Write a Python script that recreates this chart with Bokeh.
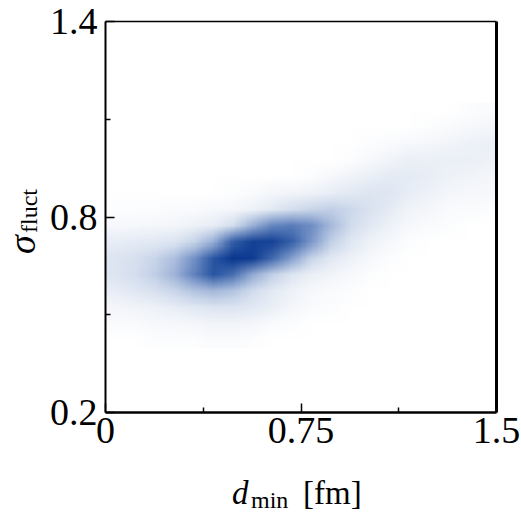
import base64
import struct
import zlib
import numpy as np
from bokeh.plotting import figure
from bokeh.models import FixedTicker, LinearAxis, Label
from bokeh.embed import file_html
from bokeh.resources import INLINE

# ---- data ----
x_cells = [0.0375, 0.1125, 0.1875, 0.2625, 0.3375, 0.4125, 0.4875, 0.5625, 0.6375, 0.7125,
           0.7875, 0.8625, 0.9375, 1.0125, 1.0875, 1.1625, 1.2375, 1.3125, 1.3875, 1.4625]
y_cells = [1.125, 1.075, 1.025, 0.975, 0.925, 0.875, 0.825, 0.775, 0.725, 0.675,
           0.625, 0.575, 0.525, 0.475, 0.425]
density = [
    [0, 0, 0, 0, 0, 0, 0, 0, 0, 0, 0, 0, 0, 0, 0, 0, 0, 0, 0.01, 0.02],
    [0, 0, 0, 0, 0, 0, 0, 0, 0, 0, 0, 0, 0, 0, 0, 0, 0.01, 0.02, 0.03, 0.04],
    [0, 0, 0, 0, 0, 0, 0, 0, 0, 0, 0, 0, 0, 0.01, 0.02, 0.03, 0.04, 0.05, 0.06, 0.07],
    [0, 0, 0, 0, 0, 0, 0, 0, 0, 0, 0, 0, 0.01, 0.03, 0.05, 0.07, 0.07, 0.07, 0.07, 0.06],
    [0, 0, 0, 0, 0, 0, 0, 0, 0, 0, 0.01, 0.03, 0.05, 0.07, 0.09, 0.09, 0.08, 0.06, 0.05, 0.04],
    [0, 0, 0, 0, 0, 0, 0.01, 0.02, 0.04, 0.05, 0.06, 0.08, 0.10, 0.12, 0.11, 0.08, 0.06, 0.04, 0.03, 0.03],
    [0.01, 0.01, 0.01, 0.02, 0.02, 0.03, 0.04, 0.06, 0.10, 0.15, 0.18, 0.20, 0.17, 0.13, 0.09, 0.05, 0.04, 0.02, 0.02, 0.01],
    [0.03, 0.03, 0.04, 0.04, 0.06, 0.08, 0.15, 0.30, 0.45, 0.50, 0.42, 0.27, 0.16, 0.10, 0.06, 0.03, 0.02, 0.01, 0, 0],
    [0.08, 0.09, 0.10, 0.12, 0.18, 0.30, 0.65, 0.85, 0.85, 0.65, 0.38, 0.20, 0.11, 0.06, 0.03, 0.01, 0, 0, 0, 0],
    [0.12, 0.14, 0.18, 0.25, 0.40, 0.70, 0.95, 0.90, 0.60, 0.35, 0.18, 0.10, 0.06, 0.03, 0.01, 0, 0, 0, 0, 0],
    [0.12, 0.15, 0.20, 0.29, 0.47, 0.70, 0.57, 0.32, 0.20, 0.12, 0.07, 0.05, 0.03, 0.01, 0, 0, 0, 0, 0, 0],
    [0.08, 0.11, 0.14, 0.18, 0.24, 0.28, 0.24, 0.16, 0.10, 0.06, 0.03, 0.02, 0.01, 0, 0, 0, 0, 0, 0, 0],
    [0.04, 0.05, 0.06, 0.08, 0.10, 0.12, 0.12, 0.10, 0.07, 0.04, 0.02, 0.01, 0, 0, 0, 0, 0, 0, 0, 0],
    [0.02, 0.02, 0.03, 0.03, 0.04, 0.05, 0.05, 0.04, 0.02, 0.01, 0, 0, 0, 0, 0, 0, 0, 0, 0, 0],
    [0, 0, 0.01, 0.01, 0.01, 0.02, 0.02, 0.01, 0, 0, 0, 0, 0, 0, 0, 0, 0, 0, 0, 0],
]
x_ticks = [0, 0.75, 1.5]
x_tick_labels = ["0", "0.75", "1.5"]
x_minor = [0.375, 1.125]
y_ticks = [0.2, 0.8, 1.4]
y_tick_labels = ["0.2", "0.8", "1.4"]
y_minor = [0.5, 1.1]
XR = (0.0, 1.5)
YR = (0.2, 1.4)

# ---- colour map (style) ----
anchors = [(0.0, (255, 255, 255)), (0.15, (212, 222, 238)), (0.4, (115, 145, 198)),
           (0.7, (40, 85, 162)), (1.0, (3, 48, 138))]


def colour(t):
    t = min(max(t, 0.0), 1.0)
    for (t0, c0), (t1, c1) in zip(anchors[:-1], anchors[1:]):
        if t0 <= t <= t1:
            f = (t - t0) / (t1 - t0)
            return [round(a + (b - a) * f) for a, b in zip(c0, c1)]
    return list(anchors[-1][1])


rgb = np.array([[colour(v) for v in row] for row in density], dtype=np.uint8)


def png_data_url(arr):
    h, w, _ = arr.shape
    raw = b"".join(b"\x00" + arr[r].tobytes() for r in range(h))

    def chunk(tag, data):
        return (struct.pack(">I", len(data)) + tag + data +
                struct.pack(">I", zlib.crc32(tag + data) & 0xFFFFFFFF))

    png = (b"\x89PNG\r\n\x1a\n" +
           chunk(b"IHDR", struct.pack(">IIBBBBB", w, h, 8, 2, 0, 0, 0)) +
           chunk(b"IDAT", zlib.compress(raw, 9)) + chunk(b"IEND", b""))
    return "data:image/png;base64," + base64.b64encode(png).decode()


# ---- layout (pixels) ----
W, H = 521, 513
BOX_L, BOX_T, BOX = 105, 21, 391
sx = (XR[1] - XR[0]) / BOX
sy = (YR[1] - YR[0]) / BOX
x_range = (XR[0] - BOX_L * sx, XR[1] + (W - BOX_L - BOX) * sx)
y_range = (YR[0] - (H - BOX_T - BOX) * sy, YR[1] + BOX_T * sy)

p = figure(width=W, height=H, x_range=x_range, y_range=y_range,
           output_backend="svg", toolbar_location=None, min_border=0,
           x_axis_type=None, y_axis_type=None)
p.grid.visible = False
p.outline_line_color = None
p.background_fill_color = "white"
p.border_fill_color = "white"

dx = x_cells[1] - x_cells[0]
dy = y_cells[0] - y_cells[1]
p.image_url(url=[png_data_url(rgb)], x=x_cells[0] - dx / 2, y=y_cells[0] + dy / 2,
            w=(x_cells[-1] - x_cells[0]) + dx, h=(y_cells[0] - y_cells[-1]) + dy,
            anchor="top_left")

FONT = "Liberation Serif"


def style_axis(ax, ticks, minor, labels, width):
    ax.ticker = FixedTicker(ticks=ticks, minor_ticks=minor)
    ax.major_label_overrides = {t: l for t, l in zip(ticks, labels)}
    ax.major_label_text_font = FONT
    ax.major_label_text_font_size = "38px"
    ax.major_label_text_color = "black"
    ax.axis_line_color = "black"
    ax.axis_line_width = width
    ax.major_tick_line_color = "black"
    ax.minor_tick_line_color = "black"
    ax.major_tick_in = 9
    ax.major_tick_out = 0
    ax.minor_tick_in = 5
    ax.minor_tick_out = 0
    ax.major_tick_line_width = 1.5
    ax.minor_tick_line_width = 1.5


xaxis = LinearAxis(fixed_location=YR[0], bounds=XR)
style_axis(xaxis, x_ticks, x_minor, x_tick_labels, 2.5)
xaxis.major_label_standoff = 5
p.add_layout(xaxis, "below")

yaxis = LinearAxis(fixed_location=XR[0], bounds=YR)
style_axis(yaxis, y_ticks, y_minor, y_tick_labels, 2)
yaxis.major_label_standoff = 8
p.add_layout(yaxis, "left")

for place, loc, bnd, wid in (("above", YR[1], XR, 1.5), ("right", XR[1], YR, 3)):
    ax = LinearAxis(fixed_location=loc, bounds=bnd, axis_line_color="black", axis_line_width=wid,
                    major_tick_line_color=None, minor_tick_line_color=None,
                    major_label_text_color=None, major_label_text_font_size="1px")
    p.add_layout(ax, place)

# axis titles
xc = (XR[0] + XR[1]) / 2
yc = (YR[0] + YR[1]) / 2
title_style = dict(text_font=FONT, text_color="black", text_align="left",
                   text_baseline="alphabetic")
p.add_layout(Label(x=xc, y=YR[0], x_offset=-69, y_offset=-80, text="d",
                   text_font_style="italic", text_font_size="33px", **title_style))
p.add_layout(Label(x=xc, y=YR[0], x_offset=-50, y_offset=-87, text="min",
                   text_font_size="24px", **title_style))
p.add_layout(Label(x=xc, y=YR[0], x_offset=2, y_offset=-80, text="[fm]",
                   text_font_size="33px", **title_style))
p.add_layout(Label(x=XR[0], y=yc, x_offset=-84, y_offset=-37, text="σ", angle=np.pi / 2,
                   text_font_style="italic", text_font_size="38px", **title_style))
p.add_layout(Label(x=XR[0], y=yc, x_offset=-77, y_offset=-16, text="fluct", angle=np.pi / 2,
                   text_font_size="24px", **title_style))

open("out.html", "w").write(file_html(p, INLINE))
